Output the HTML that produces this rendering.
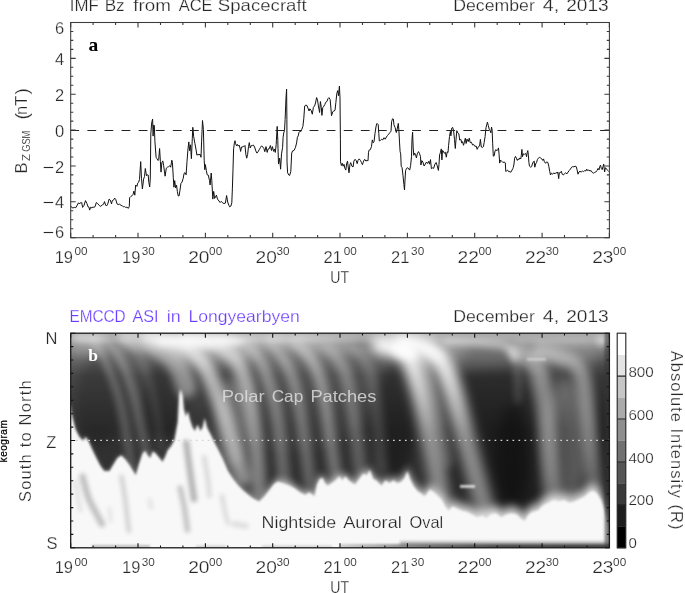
<!DOCTYPE html>
<html lang="en"><head><meta charset="utf-8"><title>IMF Bz and EMCCD ASI keogram</title>
<style>html,body{margin:0;padding:0;background:#fff}svg{display:block}text{stroke:#fff;stroke-width:.25px}.sm{stroke-width:.12px}.ns{stroke:none}</style></head>
<body>
<svg width="685" height="593" viewBox="0 0 685 593" font-family='"Liberation Sans", sans-serif' font-size="16.5" fill="#262626">
<defs>
<filter id="b1" filterUnits="userSpaceOnUse" x="40" y="310" width="600" height="260"><feGaussianBlur stdDeviation="1"/></filter>
<filter id="b15" filterUnits="userSpaceOnUse" x="40" y="310" width="600" height="260"><feGaussianBlur stdDeviation="1.5"/></filter>
<filter id="b2" filterUnits="userSpaceOnUse" x="40" y="310" width="600" height="260"><feGaussianBlur stdDeviation="2.2"/></filter>
<filter id="b3" filterUnits="userSpaceOnUse" x="40" y="310" width="600" height="260"><feGaussianBlur stdDeviation="3.5"/></filter>
<filter id="b4" filterUnits="userSpaceOnUse" x="40" y="310" width="600" height="260"><feGaussianBlur stdDeviation="4.5"/></filter>
<filter id="b5" filterUnits="userSpaceOnUse" x="40" y="310" width="600" height="260"><feGaussianBlur stdDeviation="6"/></filter>
<clipPath id="cp"><rect x="70.7" y="333.2" width="538.7" height="214.6"/></clipPath>
<linearGradient id="gs" gradientUnits="userSpaceOnUse" x1="0" y1="336" x2="0" y2="520"><stop offset="0" stop-color="#fff" stop-opacity="0.8"/><stop offset="0.08" stop-color="#fff" stop-opacity="0.95"/><stop offset="0.3" stop-color="#fff" stop-opacity="0.8"/><stop offset="1" stop-color="#fff" stop-opacity="0.55"/></linearGradient>
<linearGradient id="gs2" gradientUnits="userSpaceOnUse" x1="0" y1="336" x2="0" y2="520"><stop offset="0" stop-color="#fff" stop-opacity="1"/><stop offset="0.2" stop-color="#fff" stop-opacity="0.85"/><stop offset="0.55" stop-color="#fff" stop-opacity="0.5"/><stop offset="1" stop-color="#fff" stop-opacity="0.4"/></linearGradient>
<linearGradient id="gstrip" x1="0" y1="0" x2="1" y2="0"><stop offset="0" stop-color="#ccc"/><stop offset="0.35" stop-color="#666"/><stop offset="0.6" stop-color="#3a3a3a"/><stop offset="1" stop-color="#333"/></linearGradient>
<linearGradient id="gb" x1="0" y1="0" x2="0" y2="1"><stop offset="0" stop-color="#9a9a9a"/><stop offset="0.06" stop-color="#7c7c7c"/><stop offset="0.2" stop-color="#4a4a4a"/><stop offset="0.45" stop-color="#323232"/><stop offset="1" stop-color="#2c2c2c"/></linearGradient>
</defs>
<rect width="685" height="593" fill="#fff"/>
<text x="69.8" y="11" textLength="29" lengthAdjust="spacingAndGlyphs">IMF</text>
<text x="104.7" y="11" textLength="19.9" lengthAdjust="spacingAndGlyphs">Bz</text>
<text x="133.2" y="11" textLength="37.6" lengthAdjust="spacingAndGlyphs">from</text>
<text x="178.7" y="11" textLength="33.9" lengthAdjust="spacingAndGlyphs">ACE</text>
<text x="217.8" y="11" textLength="89" lengthAdjust="spacingAndGlyphs">Spacecraft</text>
<text x="453.2" y="11.2" textLength="81.6" lengthAdjust="spacingAndGlyphs">December</text>
<text x="542.8" y="11.2" textLength="16.4" lengthAdjust="spacingAndGlyphs">4,</text>
<text x="566.2" y="11.2" textLength="42.5" lengthAdjust="spacingAndGlyphs">2013</text>
<path d="M70.7 206 L71.2 206.9 L72.9 208 L74.4 207.4 L75.8 207.7 L77.3 205 L78.5 202.8 L79.3 203.9 L80.2 202.8 L81.1 203.1 L81.7 202.5 L82.6 207.4 L84 205.4 L85.5 200.6 L86.9 203.5 L88.1 206.9 L89 207.2 L89.6 210.1 L90.7 207.2 L91.9 208 L92.8 206.9 L93.9 207.4 L95.1 206.6 L96.3 202.5 L97.7 203.6 L99.2 205.4 L100.7 206.4 L102.1 205 L103.6 204.2 L104.5 201.6 L105.6 205 L106.5 206 L107.7 204.2 L109.1 199.1 L110.3 200.1 L111.5 203.9 L112.3 200.6 L113.5 200.1 L114.7 198.1 L115.8 199.6 L117 203.9 L118.2 204.5 L119.6 204.2 L121.1 205.4 L122.3 205.7 L123.4 206.9 L124.6 206.6 L125.5 207.4 L126.9 207.2 L128.4 208.3 L129.3 206.4 L129.6 197.7 L130.7 196.6 L131.9 195.8 L133.1 194.3 L133.9 191.1 L134.8 195.2 L135.7 185 L136.9 186.4 L137.7 183.1 L138.6 182.3 L139.5 179.4 L140.7 161.6 L141.5 178.7 L142.4 188.9 L143.6 179.1 L144.5 176.5 L145.3 168.5 L146.5 175.8 L147.4 174.7 L148.2 175 L148.8 182.3 L149.7 187 L150.3 178 L150.8 133.9 L151.7 122.9 L152.6 119 L153.1 136.1 L153.7 125.1 L154.3 125.4 L154.9 141.2 L156.1 157.3 L156.9 158.7 L158.1 160.5 L158.7 159.4 L159.6 148.5 L160.4 161.6 L161 172.1 L161.9 162.4 L162.8 160.9 L163.6 165.3 L164.5 171.9 L165.1 176.2 L166.3 168.2 L167.4 167.2 L168.6 166.7 L169.8 165.7 L170.7 167.2 L171.8 160.2 L172.4 162.4 L173.3 177.7 L173.9 187.2 L174.7 180.6 L175.6 187.9 L176.5 185 L177.4 191.6 L178.2 195.9 L179.1 195.9 L180 190.1 L180.9 183.5 L182 182.1 L183.2 178.4 L184.1 173.3 L185 172.6 L186.1 174.8 L187 161.6 L187.9 150 L188.8 141.9 L189.6 150.7 L190.5 144.8 L191.4 158.7 L192.3 138.3 L192.8 127.3 L193.7 136.8 L194.9 143.4 L196.1 150 L196.9 155.1 L198.1 154.3 L199 155.1 L199.9 154 L201 157.3 L201.6 141.2 L202.5 120.5 L203.4 129.5 L204.2 160.2 L204.8 169.7 L205.4 164.6 L206.3 170.4 L207.2 174.8 L208.3 175.1 L209.5 180.6 L210.1 185 L211.2 173 L211.8 180.6 L212.7 196.7 L212.8 199.1 L213.7 191.4 L214.6 198.4 L215.2 197.7 L216.4 195.2 L217.5 199.1 L219 201 L220.1 202.5 L221.3 201.3 L222.5 202.8 L223.9 203.5 L225.4 203.1 L226.6 195.5 L227.7 202 L228.9 205.4 L229.8 206.9 L230.9 206 L231.8 202.8 L232.4 188.2 L233 169.2 L233.6 148.8 L234.5 142.2 L235 140.7 L235.6 143.6 L236.5 145.8 L237.4 144.4 L238.2 146.1 L239.1 145.1 L240 148 L240.6 151.4 L241.5 147 L242.3 147.3 L243.2 146.1 L244.1 146.6 L245 145.5 L245.8 153.9 L246.7 158.2 L247.6 154.6 L248.5 146.6 L249.3 142.6 L250.2 148 L251.1 145.8 L252.3 145.5 L253.4 145.1 L254.6 147 L255.8 150.9 L256.9 153.1 L258.1 151.7 L259.3 149.5 L260.4 147.6 L261.6 145.8 L262.8 147 L263.9 148.5 L264.8 151.7 L266 146.6 L267.2 152.4 L268 149.1 L269.2 148.8 L270.4 145.5 L271.5 150.5 L272.4 146.6 L273.6 151.4 L274.5 149.1 L275.3 152.4 L276.2 144.4 L276.4 140.2 L277.2 126.4 L277.8 140.2 L278 148.8 L278.5 164.1 L279.7 158.2 L280.6 169.2 L281.5 153.9 L282.6 147.3 L283.1 137.3 L283.9 132.2 L284.5 130.7 L285.1 119.8 L286 97.9 L286.6 89.1 L286.9 119.8 L287 161.9 L287.6 172.8 L288.8 175 L289.6 175.5 L290.8 171.4 L291.7 153.1 L292.6 150.9 L294 150.5 L295.5 147.3 L296.6 142.9 L297.4 137.3 L298.2 135.9 L299.1 132.2 L300 131.2 L300.9 131.5 L301.8 129.3 L302.9 126.4 L303.8 118.3 L304.7 105.9 L305.8 105.2 L307 105.5 L308.2 108.8 L309.1 111 L309.9 108.8 L311.1 110.3 L312.3 114.2 L313.4 107.4 L314.6 105.9 L315.5 103 L316.6 97.6 L317.5 100.1 L318.4 105.9 L319.6 112.5 L320.4 101.5 L321.3 107.4 L321.9 115.4 L322.8 107.4 L323.6 106.7 L324.8 104.5 L325.7 102.3 L326.9 101.5 L328 98.6 L328.9 97.6 L330.1 99.4 L330.9 108.1 L331.5 115.7 L332.7 111.8 L333.9 111 L335 110.3 L335.9 102.3 L336.8 93.5 L337.7 90.6 L338.5 95.7 L339.4 86.2 L340 97.9 L340.4 139.2 L340.5 161.8 L341.4 165.5 L342.3 163.3 L343.1 166.2 L344 164.3 L344.9 168.4 L345.8 170.1 L346.6 164 L347.5 161.1 L348.1 166.2 L349 172.8 L349.9 164.7 L350.7 162.6 L351.9 166.2 L353.1 166.9 L353.9 161.1 L355.1 159.3 L356.3 160.8 L357.2 163.7 L358 160.4 L359.2 158.9 L360.4 160.4 L361.5 162.6 L362.4 164.7 L363.6 161.1 L364.7 159.3 L365.9 161.1 L367.1 160.4 L368 160.8 L368.5 152.3 L369.1 150.1 L370.3 149.7 L371.5 146.5 L372.3 139.9 L373.2 142.8 L374.1 141.4 L375 133.4 L376.1 126.1 L377 123.4 L378.2 124.6 L378.8 133.4 L379.3 140.9 L380.5 140.4 L381.7 139.2 L382.8 139.9 L384 137.7 L385.2 139.2 L386.4 137 L387.5 135.5 L388.7 134.1 L389.9 132.6 L391 131.2 L391.6 121.7 L392.5 118.8 L393.4 119.1 L393.9 124.6 L395.1 127.5 L396.3 132.6 L397.2 129 L398.3 123.4 L398.9 130.4 L399.5 142.1 L400.1 151.6 L400.7 153.8 L401.2 166.2 L402.1 167.7 L403 175.7 L403.9 184.5 L404.5 190 L405 180.1 L405.6 170.6 L406.5 168.4 L407.7 167.7 L408.8 169.1 L409.7 170.1 L410.6 165.5 L411.5 156.7 L412 139.2 L412.6 132.2 L413.2 148 L413.8 155.3 L414.7 153.1 L415.5 154.5 L416.4 157.9 L417.3 153.8 L418.5 151.6 L419.6 153.8 L420.5 156.7 L420.9 165 L421.8 160.6 L422.9 162 L424.1 166 L425.3 164.2 L426.4 162 L427.6 163.5 L428.8 161.3 L429.6 164.2 L430.5 159.6 L431.4 168.6 L432.6 167.9 L433.7 168.3 L434.9 164.2 L436.1 162.5 L437.2 165.7 L438.4 170.4 L439 164.2 L439.6 154.7 L440.4 152.6 L441.3 148.9 L441.9 159.9 L442.5 150.4 L443.4 151.1 L444.2 153.3 L445.4 152.3 L446.3 157.2 L447.2 151.8 L448 152.6 L448.6 145.3 L449.5 136.5 L450.4 131.4 L450.9 135.8 L451.8 128 L452.7 127.4 L453.6 130.7 L454.5 139.4 L455.3 148.5 L455.9 140.9 L456.8 130.7 L457.7 132.8 L458.8 133.6 L459.7 140.1 L460.9 139.4 L461.8 143.1 L462.6 141.6 L463.5 145.3 L464.4 142.3 L465.3 138.2 L466.1 143.5 L467 139.1 L468.2 141.6 L469.3 138.2 L470.2 142.6 L471.4 142.3 L472.6 145 L473.7 144.5 L474.9 146.4 L476.1 146 L477.2 149.3 L478.4 146.7 L479.6 146 L480.4 139.4 L481.3 147 L482.5 147.4 L483.4 146.7 L484.2 142.3 L485.1 136.5 L486 127.7 L486.9 124.1 L487.4 122.2 L488.3 125.5 L489.2 129.2 L490.1 130.7 L490.9 132.8 L491.5 127 L492.1 129.9 L492.7 143.8 L493.3 156.2 L494.2 155.8 L495 151.1 L495.9 149.6 L496.8 150.8 L497.7 149.9 L498.5 147.9 L499.1 154.7 L499.7 163.1 L500.6 160.1 L501.8 161.3 L502.9 162.5 L504.1 162 L505.3 162.8 L505.8 171.5 L506.7 170.8 L507.6 170.1 L508.8 171.8 L509.9 171.5 L510.8 172.3 L512 170.1 L512.8 168.6 L513.2 167.7 L514 164 L514.6 158.2 L515.5 156.4 L516.4 158.2 L517.3 160.4 L518.1 158.9 L519 159.6 L519.9 157.9 L520.8 158.9 L521.3 155.3 L521.9 149.4 L522.5 156.7 L523.4 153.8 L524.3 154.5 L525.1 153.5 L526 154.1 L526.6 156.7 L527.2 152.3 L527.8 150.6 L528.4 155.3 L528.9 162.6 L529.5 166.2 L530.7 167.2 L531.6 166.6 L532.4 164 L533.3 161.8 L534.2 161.1 L534.8 167.2 L535.6 164 L536.5 162.6 L537.4 159.6 L538.3 158.2 L539.4 157.4 L540.6 157.9 L541.8 158.9 L542.7 160.4 L543.5 158.9 L544.4 161.8 L545.6 163.3 L546.7 161.8 L547.9 162.6 L548.8 166.2 L549.7 171.3 L550.5 175 L551.4 173.1 L552.6 174.2 L553.8 172.8 L554.9 173.9 L556.1 172.5 L557.3 173.1 L557.8 172 L558.7 178.6 L559.3 172.8 L560.5 172.5 L561.3 171.3 L562.2 174.2 L563.4 175 L564.6 173.5 L565.7 172.8 L566.9 173.9 L568.1 172 L569.2 170.6 L570.4 169.1 L571.6 167.2 L572.7 166.6 L573.9 166.9 L575.1 166.2 L576.2 166.6 L577.1 169.9 L578 174.2 L578.9 172 L580 171.3 L581.2 172 L582.4 171 L583.5 171.6 L584.7 170.6 L585.9 171 L586.7 169.1 L587.6 170.6 L588.8 170.1 L590 171 L591.1 170.6 L592.3 172.5 L593.5 173.1 L594.6 172.5 L595.8 172 L597 170.6 L598.1 168.4 L599 169.9 L599.9 166.2 L600.5 165.2 L601.3 168.4 L602.2 169.6 L603.1 166.2 L603.7 164 L604.6 172 L605.4 167.7 L606.6 169.1 L607.8 170.6 L608.6 171.3" fill="none" stroke="#111" stroke-width="1" stroke-linejoin="round"/>
<line x1="70.3" y1="130.4" x2="609.4" y2="130.4" stroke="#222" stroke-width="1.05" stroke-dasharray="8.8 8.29"/>
<path d="M70.7 237.7v-5.0M70.7 22.5v5.0M93.1 237.7v-2.6M93.1 22.5v2.6M115.6 237.7v-2.6M115.6 22.5v2.6M138 237.7v-5.0M138 22.5v5.0M160.5 237.7v-2.6M160.5 22.5v2.6M182.9 237.7v-2.6M182.9 22.5v2.6M205.4 237.7v-5.0M205.4 22.5v5.0M227.8 237.7v-2.6M227.8 22.5v2.6M250.3 237.7v-2.6M250.3 22.5v2.6M272.7 237.7v-5.0M272.7 22.5v5.0M295.2 237.7v-2.6M295.2 22.5v2.6M317.6 237.7v-2.6M317.6 22.5v2.6M340 237.7v-5.0M340 22.5v5.0M362.5 237.7v-2.6M362.5 22.5v2.6M384.9 237.7v-2.6M384.9 22.5v2.6M407.4 237.7v-5.0M407.4 22.5v5.0M429.8 237.7v-2.6M429.8 22.5v2.6M452.3 237.7v-2.6M452.3 22.5v2.6M474.7 237.7v-5.0M474.7 22.5v5.0M497.2 237.7v-2.6M497.2 22.5v2.6M519.6 237.7v-2.6M519.6 22.5v2.6M542.1 237.7v-5.0M542.1 22.5v5.0M564.5 237.7v-2.6M564.5 22.5v2.6M587 237.7v-2.6M587 22.5v2.6M609.4 237.7v-5.0M609.4 22.5v5.0" stroke="#3a3a3a" stroke-width="1.1" fill="none"/>
<path d="M70.7 22.5h5.0M609.4 22.5h-5.0M70.7 31.5h2.6M609.4 31.5h-2.6M70.7 40.4h2.6M609.4 40.4h-2.6M70.7 49.4h2.6M609.4 49.4h-2.6M70.7 58.4h5.0M609.4 58.4h-5.0M70.7 67.3h2.6M609.4 67.3h-2.6M70.7 76.3h2.6M609.4 76.3h-2.6M70.7 85.3h2.6M609.4 85.3h-2.6M70.7 94.2h5.0M609.4 94.2h-5.0M70.7 103.2h2.6M609.4 103.2h-2.6M70.7 112.2h2.6M609.4 112.2h-2.6M70.7 121.1h2.6M609.4 121.1h-2.6M70.7 130.1h5.0M609.4 130.1h-5.0M70.7 139.1h2.6M609.4 139.1h-2.6M70.7 148h2.6M609.4 148h-2.6M70.7 157h2.6M609.4 157h-2.6M70.7 166h5.0M609.4 166h-5.0M70.7 174.9h2.6M609.4 174.9h-2.6M70.7 183.9h2.6M609.4 183.9h-2.6M70.7 192.9h2.6M609.4 192.9h-2.6M70.7 201.8h5.0M609.4 201.8h-5.0M70.7 210.8h2.6M609.4 210.8h-2.6M70.7 219.8h2.6M609.4 219.8h-2.6M70.7 228.7h2.6M609.4 228.7h-2.6M70.7 237.7h5.0M609.4 237.7h-5.0" stroke="#3a3a3a" stroke-width="1.1" fill="none"/>
<rect x="70.7" y="22.5" width="538.7" height="215.2" fill="none" stroke="#3a3a3a" stroke-width="1.05"/>
<text x="64.2" y="34.2" text-anchor="end">6</text>
<text x="64.2" y="65" text-anchor="end">4</text>
<text x="64.2" y="100.8" text-anchor="end">2</text>
<text x="64.2" y="136.7" text-anchor="end">0</text>
<text x="42.6" y="172.6" textLength="11.6" lengthAdjust="spacingAndGlyphs">−</text>
<text x="64.2" y="172.6" text-anchor="end">2</text>
<text x="42.6" y="208.4" textLength="11.6" lengthAdjust="spacingAndGlyphs">−</text>
<text x="64.2" y="208.4" text-anchor="end">4</text>
<text x="42.6" y="238.2" textLength="11.6" lengthAdjust="spacingAndGlyphs">−</text>
<text x="64.2" y="238.2" text-anchor="end">6</text>
<text x="54.7" y="262.5">19</text>
<text x="74.4" y="255.1" font-size="10.2" class="sm" textLength="13.1" lengthAdjust="spacingAndGlyphs">00</text>
<text x="122" y="262.5">19</text>
<text x="141.7" y="255.1" font-size="10.2" class="sm" textLength="13.1" lengthAdjust="spacingAndGlyphs">30</text>
<text x="188.2" y="262.5" textLength="21.3" lengthAdjust="spacingAndGlyphs">20</text>
<text x="209.1" y="255.1" font-size="10.2" class="sm" textLength="13.1" lengthAdjust="spacingAndGlyphs">00</text>
<text x="255.5" y="262.5" textLength="21.3" lengthAdjust="spacingAndGlyphs">20</text>
<text x="276.4" y="255.1" font-size="10.2" class="sm" textLength="13.1" lengthAdjust="spacingAndGlyphs">30</text>
<text x="323.6" y="262.5">21</text>
<text x="343.7" y="255.1" font-size="10.2" class="sm" textLength="13.1" lengthAdjust="spacingAndGlyphs">00</text>
<text x="391" y="262.5">21</text>
<text x="411.1" y="255.1" font-size="10.2" class="sm" textLength="13.1" lengthAdjust="spacingAndGlyphs">30</text>
<text x="457.5" y="262.5" textLength="21.3" lengthAdjust="spacingAndGlyphs">22</text>
<text x="478.4" y="255.1" font-size="10.2" class="sm" textLength="13.1" lengthAdjust="spacingAndGlyphs">00</text>
<text x="524.9" y="262.5" textLength="21.3" lengthAdjust="spacingAndGlyphs">22</text>
<text x="545.8" y="255.1" font-size="10.2" class="sm" textLength="13.1" lengthAdjust="spacingAndGlyphs">30</text>
<text x="592.2" y="262.5" textLength="21.3" lengthAdjust="spacingAndGlyphs">23</text>
<text x="613.1" y="255.1" font-size="10.2" class="sm" textLength="13.1" lengthAdjust="spacingAndGlyphs">00</text>
<text x="54.7" y="573">19</text>
<text x="74.4" y="565.6" font-size="10.2" class="sm" textLength="13.1" lengthAdjust="spacingAndGlyphs">00</text>
<text x="122" y="573">19</text>
<text x="141.7" y="565.6" font-size="10.2" class="sm" textLength="13.1" lengthAdjust="spacingAndGlyphs">30</text>
<text x="188.2" y="573" textLength="21.3" lengthAdjust="spacingAndGlyphs">20</text>
<text x="209.1" y="565.6" font-size="10.2" class="sm" textLength="13.1" lengthAdjust="spacingAndGlyphs">00</text>
<text x="255.5" y="573" textLength="21.3" lengthAdjust="spacingAndGlyphs">20</text>
<text x="276.4" y="565.6" font-size="10.2" class="sm" textLength="13.1" lengthAdjust="spacingAndGlyphs">30</text>
<text x="323.6" y="573">21</text>
<text x="343.7" y="565.6" font-size="10.2" class="sm" textLength="13.1" lengthAdjust="spacingAndGlyphs">00</text>
<text x="391" y="573">21</text>
<text x="411.1" y="565.6" font-size="10.2" class="sm" textLength="13.1" lengthAdjust="spacingAndGlyphs">30</text>
<text x="457.5" y="573" textLength="21.3" lengthAdjust="spacingAndGlyphs">22</text>
<text x="478.4" y="565.6" font-size="10.2" class="sm" textLength="13.1" lengthAdjust="spacingAndGlyphs">00</text>
<text x="524.9" y="573" textLength="21.3" lengthAdjust="spacingAndGlyphs">22</text>
<text x="545.8" y="565.6" font-size="10.2" class="sm" textLength="13.1" lengthAdjust="spacingAndGlyphs">30</text>
<text x="592.2" y="573" textLength="21.3" lengthAdjust="spacingAndGlyphs">23</text>
<text x="613.1" y="565.6" font-size="10.2" class="sm" textLength="13.1" lengthAdjust="spacingAndGlyphs">00</text>
<text x="330.3" y="282.6" textLength="18.8" lengthAdjust="spacingAndGlyphs">UT</text>
<text x="330.3" y="592.6" textLength="18.8" lengthAdjust="spacingAndGlyphs">UT</text>
<g transform="translate(26.6 173.6) rotate(-90)"><text x="0" y="0">B</text><text x="12.6" y="3.2" font-size="11.5" class="sm">Z</text><text x="21.9" y="3.2" font-size="11.5" class="sm" textLength="21" lengthAdjust="spacingAndGlyphs">GSM</text><text x="54" y="1.6" font-size="19">(</text><text x="58.6" y="0" textLength="19.4" lengthAdjust="spacing">nT</text><text x="79" y="1.6" font-size="19">)</text></g>
<text x="88.6" y="51" font-family='"Liberation Serif", serif' font-weight="bold" font-size="19.5" fill="#000" class="ns">a</text>
<text x="69.4" y="321.8" textLength="56.3" lengthAdjust="spacingAndGlyphs" fill="#6a3cff">EMCCD</text>
<text x="132.5" y="321.8" textLength="26.1" lengthAdjust="spacingAndGlyphs" fill="#6a3cff">ASI</text>
<text x="166.8" y="321.8" textLength="13.9" lengthAdjust="spacingAndGlyphs" fill="#6a3cff">in</text>
<text x="188.5" y="321.8" textLength="111.3" lengthAdjust="spacingAndGlyphs" fill="#6a3cff">Longyearbyen</text>
<text x="453.2" y="321.8" textLength="81.6" lengthAdjust="spacingAndGlyphs">December</text>
<text x="542.8" y="321.8" textLength="16.4" lengthAdjust="spacingAndGlyphs">4,</text>
<text x="566.2" y="321.8" textLength="42.5" lengthAdjust="spacingAndGlyphs">2013</text>
<g clip-path="url(#cp)">
<rect x="70.7" y="333.2" width="538.7" height="214.6" fill="url(#gb)"/>
<ellipse cx="512" cy="455" rx="16" ry="50" fill="#000" opacity="0.3" filter="url(#b5)"/>
<ellipse cx="395" cy="420" rx="22" ry="55" fill="#000" opacity="0.35" filter="url(#b5)"/>
<ellipse cx="165" cy="400" rx="22" ry="40" fill="#000" opacity="0.25" filter="url(#b5)"/>
<ellipse cx="100" cy="400" rx="25" ry="45" fill="#000" opacity="0.2" filter="url(#b5)"/>
<ellipse cx="602" cy="430" rx="6" ry="80" fill="#000" opacity="0.4" filter="url(#b5)"/>
<ellipse cx="560" cy="455" rx="8" ry="40" fill="#000" opacity="0.3" filter="url(#b5)"/>
<ellipse cx="455" cy="480" rx="10" ry="30" fill="#000" opacity="0.2" filter="url(#b5)"/>
<path d="M452 372L518 368L532 400L538 505L492 512L470 450Z" fill="#000" opacity="0.4" filter="url(#b5)"/>
<rect x="70.7" y="333.2" width="538.7" height="9" fill="#fff" opacity="0.22" filter="url(#b2)"/>
<ellipse cx="200" cy="341" rx="46" ry="7" fill="#fff" opacity="0.8" filter="url(#b3)"/>
<ellipse cx="300" cy="337" rx="60" ry="3" fill="#fff" opacity="0.2" filter="url(#b3)"/>
<ellipse cx="85" cy="337" rx="20" ry="4" fill="#fff" opacity="0.2" filter="url(#b3)"/>
<ellipse cx="604" cy="341" rx="8" ry="6" fill="#fff" opacity="0.5" filter="url(#b3)"/>
<ellipse cx="560" cy="343" rx="45" ry="3.5" fill="#fff" opacity="0.3" filter="url(#b3)"/>
<ellipse cx="232" cy="425" rx="16" ry="45" fill="#fff" opacity="0.22" filter="url(#b5)"/>
<ellipse cx="566" cy="440" rx="24" ry="60" fill="#fff" opacity="0.2" filter="url(#b5)"/>
<ellipse cx="295" cy="400" rx="75" ry="50" fill="#fff" opacity="0.04" filter="url(#b5)"/>
<ellipse cx="85" cy="345" rx="22" ry="10" fill="#fff" opacity="0.25" filter="url(#b5)"/>
<ellipse cx="215" cy="352" rx="45" ry="12" fill="#fff" opacity="0.25" filter="url(#b5)"/>
<ellipse cx="330" cy="348" rx="40" ry="8" fill="#fff" opacity="0.1" filter="url(#b5)"/>
<ellipse cx="430" cy="350" rx="40" ry="10" fill="#fff" opacity="0.2" filter="url(#b5)"/>
<ellipse cx="570" cy="352" rx="40" ry="8" fill="#fff" opacity="0.15" filter="url(#b5)"/>
<path d="M80 338C82.3 338.6 89.5 337.9 93.7 341.8C98 345.7 101.5 353 105.5 361.6C109.5 370.2 114.1 382 117.4 393.2C120.7 404.4 123.3 418.8 125.3 428.7C127.3 438.6 128.1 445.5 129.2 452.4C130.3 459.3 131.5 467.1 132 470" fill="none" stroke="url(#gs)" stroke-width="8" opacity="0.3" stroke-linecap="round" filter="url(#b3)"/>
<path d="M95 338C97.1 338.6 103.1 337.9 107.5 341.8C111.9 345.7 117 353 121.3 361.6C125.6 370.2 129.9 382 133.2 393.2C136.5 404.4 138.7 418.2 141 428.7C143.3 439.2 145.5 449.4 147 456.3C148.5 463.2 149.5 467.7 150 470" fill="none" stroke="url(#gs)" stroke-width="8" opacity="0.3" stroke-linecap="round" filter="url(#b3)"/>
<path d="M118 338C120 338.7 126 338.3 130 342C134 345.7 138.3 352 142 360C145.7 368 149.3 380 152 390C154.7 400 156.3 410 158 420C159.7 430 161.3 445 162 450" fill="none" stroke="url(#gs)" stroke-width="6" opacity="0.14" stroke-linecap="round" filter="url(#b3)"/>
<path d="M128 338C131.7 338.8 143.3 340.3 150 343C156.7 345.7 163 349.5 168 354C173 358.5 177 364.3 180 370C183 375.7 185 385 186 388" fill="none" stroke="url(#gs)" stroke-width="20" opacity="0.5" stroke-linecap="round" filter="url(#b4)"/>
<path d="M150 338C154.3 338.8 168.3 340.2 176 343C183.7 345.8 190.7 350.2 196 355C201.3 359.8 204.7 365.8 208 372C211.3 378.2 213.5 385.3 216 392C218.5 398.7 220.8 405.3 223 412C225.2 418.7 226.8 424.8 229 432C231.2 439.2 233.7 447.3 236 455C238.3 462.7 241.8 474.2 243 478" fill="none" stroke="url(#gs)" stroke-width="16" opacity="0.72" stroke-linecap="round" filter="url(#b4)"/>
<path d="M188 339C192.5 340 207.3 342 215 345C222.7 348 229.2 351.5 234 357C238.8 362.5 241.3 370.5 244 378C246.7 385.5 248.3 393.3 250 402C251.7 410.7 252.8 420.3 254 430C255.2 439.7 256.2 449.7 257 460C257.8 470.3 258.7 486.7 259 492" fill="none" stroke="url(#gs)" stroke-width="15" opacity="0.62" stroke-linecap="round" filter="url(#b4)"/>
<path d="M222 339C225.7 339.8 237.8 340.8 244 344C250.2 347.2 255 352 259 358C263 364 265.3 372.2 268 380C270.7 387.8 273.2 396.7 275 405C276.8 413.3 277.8 420.8 279 430C280.2 439.2 281 450.3 282 460C283 469.7 284.5 483.3 285 488" fill="none" stroke="url(#gs)" stroke-width="12" opacity="0.44" stroke-linecap="round" filter="url(#b4)"/>
<path d="M248 339C251.3 339.8 262.2 340.8 268 344C273.8 347.2 278.8 352 283 358C287.2 364 290.3 372.2 293 380C295.7 387.8 297.3 396.7 299 405C300.7 413.3 301.7 420.8 303 430C304.3 439.2 305.8 451 307 460C308.2 469 309.5 480 310 484" fill="none" stroke="url(#gs)" stroke-width="11" opacity="0.44" stroke-linecap="round" filter="url(#b4)"/>
<path d="M272 339C275.7 339.8 287.8 341.2 294 344C300.2 346.8 304.8 350.7 309 356C313.2 361.3 316.3 368.3 319 376C321.7 383.7 323.3 393 325 402C326.7 411 327.7 420.7 329 430C330.3 439.3 331.8 450 333 458C334.2 466 335.5 474.7 336 478" fill="none" stroke="url(#gs)" stroke-width="12" opacity="0.5" stroke-linecap="round" filter="url(#b4)"/>
<path d="M298 339C301.7 339.8 313.8 341.3 320 344C326.2 346.7 330.8 350.3 335 355C339.2 359.7 342.3 364.5 345 372C347.7 379.5 349.2 389.5 351 400C352.8 410.5 354.5 423.3 356 435C357.5 446.7 359 461.8 360 470C361 478.2 361.7 481.7 362 484" fill="none" stroke="url(#gs)" stroke-width="12" opacity="0.36" stroke-linecap="round" filter="url(#b4)"/>
<path d="M330 342C333.7 343 346 344.7 352 348C358 351.3 362.3 355 366 362C369.7 369 371.8 378.7 374 390C376.2 401.3 377.7 416.7 379 430C380.3 443.3 381.5 463.3 382 470" fill="none" stroke="url(#gs)" stroke-width="10" opacity="0.22" stroke-linecap="round" filter="url(#b4)"/>
<path d="M380 345C382.7 345.5 391.7 346.8 396 348C400.3 349.2 403.2 349.7 406 352.5C408.8 355.3 410.2 358.9 412.5 365C414.8 371.1 417.4 381.2 419.5 389C421.6 396.8 423.2 404 425 412C426.8 420 428.3 428.7 430 437C431.7 445.3 433.3 453.2 435 462C436.7 470.8 438.7 483.3 440 490C441.3 496.7 442.5 500 443 502" fill="none" stroke="url(#gs2)" stroke-width="18" opacity="1.0" stroke-linecap="round" filter="url(#b5)"/>
<path d="M412 351C414 353.3 420.8 358.7 424 365C427.2 371.3 428.8 381.2 431 389C433.2 396.8 435.2 404 437 412C438.8 420 440.2 428.7 442 437C443.8 445.3 447 457.8 448 462" fill="none" stroke="url(#gs2)" stroke-width="12" opacity="0.35" stroke-linecap="round" filter="url(#b4)"/>
<path d="M402 343C405 343.5 415 344.6 420 346C425 347.4 428.1 348.3 432 351.5C435.9 354.7 440.2 359.6 443.5 365.4C446.8 371.1 448.9 378.2 451.5 386C454.1 393.8 456.7 403.7 459 412C461.3 420.3 463.3 427.8 465.5 436C467.7 444.2 469.6 452 472 461C474.4 470 477.5 481 480 490C482.5 499 485.8 510.8 487 515" fill="none" stroke="url(#gs2)" stroke-width="19" opacity="1.0" stroke-linecap="round" filter="url(#b5)"/>
<path d="M446 342C450.6 342.1 464.8 342.3 473.8 342.8C482.8 343.3 493.9 343.8 500 344.8C506.1 345.8 508.1 347 510.5 349C512.9 351 513.8 355.7 514.5 357" fill="none" stroke="url(#gs2)" stroke-width="7" opacity="0.55" stroke-linecap="round" filter="url(#b3)"/>
<path d="M515 356C515.3 359.2 516.5 367.7 517 375C517.5 382.3 517.8 395.8 518 400" fill="none" stroke="url(#gs2)" stroke-width="7" opacity="0.2" stroke-linecap="round" filter="url(#b3)"/>
<path d="M516 351C518.9 352.8 529.2 356.6 533.4 361.6C537.6 366.7 539 370.1 541.3 381.3C543.6 392.5 545.6 410.9 547.3 428.7C548.9 446.5 550.2 475.4 551.2 487.9C552.2 500.4 552.9 501.1 553.2 503.7" fill="none" stroke="url(#gs)" stroke-width="17" opacity="0.45" stroke-linecap="round" filter="url(#b4)"/>
<path d="M540 352C543.5 352.9 555 355.4 561.1 357.6C567.2 359.9 573 360.2 576.9 365.5C580.8 370.8 582.5 376.7 584.8 389.2C587.1 401.7 589.1 424.1 590.7 440.5C592.4 456.9 594 480 594.7 487.9" fill="none" stroke="url(#gs)" stroke-width="15" opacity="0.45" stroke-linecap="round" filter="url(#b4)"/>
<ellipse cx="404" cy="352" rx="13" ry="6" fill="#fff" opacity="0.65" filter="url(#b3)" transform="rotate(20 404 352)"/>
<ellipse cx="433" cy="353" rx="13" ry="5" fill="#fff" opacity="0.4" filter="url(#b3)" transform="rotate(30 433 353)"/>
<linearGradient id="gm" gradientUnits="userSpaceOnUse" x1="200" y1="0" x2="300" y2="0"><stop offset="0" stop-color="#000"/><stop offset="1" stop-color="#fff"/></linearGradient>
<mask id="mh" maskUnits="userSpaceOnUse" x="60" y="320" width="560" height="240"><rect x="60" y="320" width="560" height="240" fill="url(#gm)"/></mask>
<g mask="url(#mh)"><path d="M60 405.5 L70 405.5 L71.3 413.4 L75.3 429.2 L79.2 437.1 L83.2 441.1 L85.8 437.1 L88.9 442.4 L92.4 450.3 L96.3 458.2 L100.3 466.1 L104.2 471.3 L109.5 471.3 L113.4 464.7 L117.4 458.2 L121.3 455.5 L125.3 459.5 L129.2 464.7 L133.2 471.3 L135.8 475.3 L138.9 464.7 L142.4 454.2 L145 450.8 L147.6 455.5 L150.3 458.2 L152.9 451.6 L155.5 453.4 L159.5 458.2 L162.6 462.1 L165.3 456.8 L167.9 450.3 L171.3 446.3 L174.7 439.7 L177.9 422.1 L179.2 395.8 L180.5 389.2 L182.6 395.8 L183.7 408.9 L185.8 416.8 L187.9 411.6 L189.7 419.5 L192.4 427.4 L195 431.3 L197.6 424.7 L200.3 431.3 L202.9 427.4 L204.7 418.2 L206.8 427.4 L210.8 435.3 L214.7 443.2 L218.7 451.1 L222.6 458.9 L227.9 471.3 L233.2 479.2 L238.4 485.8 L243.7 491.1 L250 496.3 L253.9 498.9 L259.2 501.6 L264.5 496.3 L269.7 489.7 L273.7 484.5 L277.6 481.8 L282.9 483.2 L289.5 485.8 L294.7 488.4 L300 492.4 L305.3 495 L309.2 492.4 L314.5 496.3 L317.1 484.5 L319.7 479.2 L322.4 477.9 L325 483.2 L327.6 485.8 L331.6 483.2 L335.5 480.5 L339.5 476.6 L342.1 480.5 L345.3 476.6 L348.7 480.5 L352.6 483.2 L355.3 484.5 L359.2 479.2 L363.2 473.9 L367.1 475.3 L369.7 470 L373.2 479.2 L376.3 480.5 L378.9 483.2 L381.6 485.8 L385.5 480.5 L389.5 483.2 L393.4 480.5 L397.4 483.2 L401.3 481.8 L404.7 477.9 L407.4 471.3 L410 479.2 L413.2 485.8 L417.1 491.1 L421.1 493.7 L425 496.3 L430 489.7 L433.9 492.4 L437.9 496.3 L441.8 500.3 L444.5 505.5 L448.4 510.8 L452.4 506.8 L456.3 508.2 L461.6 510.8 L466.8 512.1 L472.1 514.7 L477.4 517.4 L482.6 516.1 L486.6 518.7 L490.5 514.7 L495.8 513.4 L501.1 517.4 L506.3 514.7 L511.6 513.4 L516.8 514.7 L520.8 518.7 L524.7 521.3 L528.7 514.7 L532.6 512.1 L537.9 510.8 L543.2 505.5 L548.4 502.9 L553.7 500.3 L558.9 501.6 L564.2 500.3 L569.5 502.9 L574.7 501.6 L580 498.9 L585.3 496.3 L589.2 492.4 L593.2 491.1 L597.1 493.7 L601.1 500.3 L603.7 508.2 L605.8 516.1 L607.6 526.6 L608.9 542.4 L612 560 L60 560Z" fill="#fff" opacity="0.5" filter="url(#b3)" transform="translate(0 -4.5)"/></g>
<linearGradient id="gm2" gradientUnits="userSpaceOnUse" x1="390" y1="0" x2="470" y2="0"><stop offset="0" stop-color="#000"/><stop offset="1" stop-color="#fff"/></linearGradient>
<mask id="mh2" maskUnits="userSpaceOnUse" x="60" y="320" width="560" height="240"><rect x="60" y="320" width="560" height="240" fill="url(#gm2)"/></mask>
<g mask="url(#mh2)"><path d="M60 405.5 L70 405.5 L71.3 413.4 L75.3 429.2 L79.2 437.1 L83.2 441.1 L85.8 437.1 L88.9 442.4 L92.4 450.3 L96.3 458.2 L100.3 466.1 L104.2 471.3 L109.5 471.3 L113.4 464.7 L117.4 458.2 L121.3 455.5 L125.3 459.5 L129.2 464.7 L133.2 471.3 L135.8 475.3 L138.9 464.7 L142.4 454.2 L145 450.8 L147.6 455.5 L150.3 458.2 L152.9 451.6 L155.5 453.4 L159.5 458.2 L162.6 462.1 L165.3 456.8 L167.9 450.3 L171.3 446.3 L174.7 439.7 L177.9 422.1 L179.2 395.8 L180.5 389.2 L182.6 395.8 L183.7 408.9 L185.8 416.8 L187.9 411.6 L189.7 419.5 L192.4 427.4 L195 431.3 L197.6 424.7 L200.3 431.3 L202.9 427.4 L204.7 418.2 L206.8 427.4 L210.8 435.3 L214.7 443.2 L218.7 451.1 L222.6 458.9 L227.9 471.3 L233.2 479.2 L238.4 485.8 L243.7 491.1 L250 496.3 L253.9 498.9 L259.2 501.6 L264.5 496.3 L269.7 489.7 L273.7 484.5 L277.6 481.8 L282.9 483.2 L289.5 485.8 L294.7 488.4 L300 492.4 L305.3 495 L309.2 492.4 L314.5 496.3 L317.1 484.5 L319.7 479.2 L322.4 477.9 L325 483.2 L327.6 485.8 L331.6 483.2 L335.5 480.5 L339.5 476.6 L342.1 480.5 L345.3 476.6 L348.7 480.5 L352.6 483.2 L355.3 484.5 L359.2 479.2 L363.2 473.9 L367.1 475.3 L369.7 470 L373.2 479.2 L376.3 480.5 L378.9 483.2 L381.6 485.8 L385.5 480.5 L389.5 483.2 L393.4 480.5 L397.4 483.2 L401.3 481.8 L404.7 477.9 L407.4 471.3 L410 479.2 L413.2 485.8 L417.1 491.1 L421.1 493.7 L425 496.3 L430 489.7 L433.9 492.4 L437.9 496.3 L441.8 500.3 L444.5 505.5 L448.4 510.8 L452.4 506.8 L456.3 508.2 L461.6 510.8 L466.8 512.1 L472.1 514.7 L477.4 517.4 L482.6 516.1 L486.6 518.7 L490.5 514.7 L495.8 513.4 L501.1 517.4 L506.3 514.7 L511.6 513.4 L516.8 514.7 L520.8 518.7 L524.7 521.3 L528.7 514.7 L532.6 512.1 L537.9 510.8 L543.2 505.5 L548.4 502.9 L553.7 500.3 L558.9 501.6 L564.2 500.3 L569.5 502.9 L574.7 501.6 L580 498.9 L585.3 496.3 L589.2 492.4 L593.2 491.1 L597.1 493.7 L601.1 500.3 L603.7 508.2 L605.8 516.1 L607.6 526.6 L608.9 542.4 L612 560 L60 560Z" fill="#fff" opacity="0.45" filter="url(#b4)" transform="translate(0 -9)"/></g>
<path d="M60 405.5 L70 405.5 L71.3 413.4 L75.3 429.2 L79.2 437.1 L83.2 441.1 L85.8 437.1 L88.9 442.4 L92.4 450.3 L96.3 458.2 L100.3 466.1 L104.2 471.3 L109.5 471.3 L113.4 464.7 L117.4 458.2 L121.3 455.5 L125.3 459.5 L129.2 464.7 L133.2 471.3 L135.8 475.3 L138.9 464.7 L142.4 454.2 L145 450.8 L147.6 455.5 L150.3 458.2 L152.9 451.6 L155.5 453.4 L159.5 458.2 L162.6 462.1 L165.3 456.8 L167.9 450.3 L171.3 446.3 L174.7 439.7 L177.9 422.1 L179.2 395.8 L180.5 389.2 L182.6 395.8 L183.7 408.9 L185.8 416.8 L187.9 411.6 L189.7 419.5 L192.4 427.4 L195 431.3 L197.6 424.7 L200.3 431.3 L202.9 427.4 L204.7 418.2 L206.8 427.4 L210.8 435.3 L214.7 443.2 L218.7 451.1 L222.6 458.9 L227.9 471.3 L233.2 479.2 L238.4 485.8 L243.7 491.1 L250 496.3 L253.9 498.9 L259.2 501.6 L264.5 496.3 L269.7 489.7 L273.7 484.5 L277.6 481.8 L282.9 483.2 L289.5 485.8 L294.7 488.4 L300 492.4 L305.3 495 L309.2 492.4 L314.5 496.3 L317.1 484.5 L319.7 479.2 L322.4 477.9 L325 483.2 L327.6 485.8 L331.6 483.2 L335.5 480.5 L339.5 476.6 L342.1 480.5 L345.3 476.6 L348.7 480.5 L352.6 483.2 L355.3 484.5 L359.2 479.2 L363.2 473.9 L367.1 475.3 L369.7 470 L373.2 479.2 L376.3 480.5 L378.9 483.2 L381.6 485.8 L385.5 480.5 L389.5 483.2 L393.4 480.5 L397.4 483.2 L401.3 481.8 L404.7 477.9 L407.4 471.3 L410 479.2 L413.2 485.8 L417.1 491.1 L421.1 493.7 L425 496.3 L430 489.7 L433.9 492.4 L437.9 496.3 L441.8 500.3 L444.5 505.5 L448.4 510.8 L452.4 506.8 L456.3 508.2 L461.6 510.8 L466.8 512.1 L472.1 514.7 L477.4 517.4 L482.6 516.1 L486.6 518.7 L490.5 514.7 L495.8 513.4 L501.1 517.4 L506.3 514.7 L511.6 513.4 L516.8 514.7 L520.8 518.7 L524.7 521.3 L528.7 514.7 L532.6 512.1 L537.9 510.8 L543.2 505.5 L548.4 502.9 L553.7 500.3 L558.9 501.6 L564.2 500.3 L569.5 502.9 L574.7 501.6 L580 498.9 L585.3 496.3 L589.2 492.4 L593.2 491.1 L597.1 493.7 L601.1 500.3 L603.7 508.2 L605.8 516.1 L607.6 526.6 L608.9 542.4 L612 560 L60 560Z" fill="#fff" opacity="0.35" filter="url(#b2)" transform="translate(0 -1)"/>
<path d="M60 405.5 L70 405.5 L71.3 413.4 L75.3 429.2 L79.2 437.1 L83.2 441.1 L85.8 437.1 L88.9 442.4 L92.4 450.3 L96.3 458.2 L100.3 466.1 L104.2 471.3 L109.5 471.3 L113.4 464.7 L117.4 458.2 L121.3 455.5 L125.3 459.5 L129.2 464.7 L133.2 471.3 L135.8 475.3 L138.9 464.7 L142.4 454.2 L145 450.8 L147.6 455.5 L150.3 458.2 L152.9 451.6 L155.5 453.4 L159.5 458.2 L162.6 462.1 L165.3 456.8 L167.9 450.3 L171.3 446.3 L174.7 439.7 L177.9 422.1 L179.2 395.8 L180.5 389.2 L182.6 395.8 L183.7 408.9 L185.8 416.8 L187.9 411.6 L189.7 419.5 L192.4 427.4 L195 431.3 L197.6 424.7 L200.3 431.3 L202.9 427.4 L204.7 418.2 L206.8 427.4 L210.8 435.3 L214.7 443.2 L218.7 451.1 L222.6 458.9 L227.9 471.3 L233.2 479.2 L238.4 485.8 L243.7 491.1 L250 496.3 L253.9 498.9 L259.2 501.6 L264.5 496.3 L269.7 489.7 L273.7 484.5 L277.6 481.8 L282.9 483.2 L289.5 485.8 L294.7 488.4 L300 492.4 L305.3 495 L309.2 492.4 L314.5 496.3 L317.1 484.5 L319.7 479.2 L322.4 477.9 L325 483.2 L327.6 485.8 L331.6 483.2 L335.5 480.5 L339.5 476.6 L342.1 480.5 L345.3 476.6 L348.7 480.5 L352.6 483.2 L355.3 484.5 L359.2 479.2 L363.2 473.9 L367.1 475.3 L369.7 470 L373.2 479.2 L376.3 480.5 L378.9 483.2 L381.6 485.8 L385.5 480.5 L389.5 483.2 L393.4 480.5 L397.4 483.2 L401.3 481.8 L404.7 477.9 L407.4 471.3 L410 479.2 L413.2 485.8 L417.1 491.1 L421.1 493.7 L425 496.3 L430 489.7 L433.9 492.4 L437.9 496.3 L441.8 500.3 L444.5 505.5 L448.4 510.8 L452.4 506.8 L456.3 508.2 L461.6 510.8 L466.8 512.1 L472.1 514.7 L477.4 517.4 L482.6 516.1 L486.6 518.7 L490.5 514.7 L495.8 513.4 L501.1 517.4 L506.3 514.7 L511.6 513.4 L516.8 514.7 L520.8 518.7 L524.7 521.3 L528.7 514.7 L532.6 512.1 L537.9 510.8 L543.2 505.5 L548.4 502.9 L553.7 500.3 L558.9 501.6 L564.2 500.3 L569.5 502.9 L574.7 501.6 L580 498.9 L585.3 496.3 L589.2 492.4 L593.2 491.1 L597.1 493.7 L601.1 500.3 L603.7 508.2 L605.8 516.1 L607.6 526.6 L608.9 542.4 L612 560 L60 560Z" fill="#f8f8f8" filter="url(#b1)"/>
<path d="M82.5 476.6C83.5 480.1 86.1 491.5 88.4 497.6C90.7 503.7 94 509 96.3 513.4C98.6 517.8 101 522.2 102 524" fill="none" stroke="#777" stroke-width="6.5" opacity="0.42" stroke-linecap="round" filter="url(#b2)"/>
<path d="M75.3 481.8C76.2 486.6 79.6 506 80.5 510.8" fill="none" stroke="#999" stroke-width="3.5" opacity="0.25" stroke-linecap="round" filter="url(#b2)"/>
<path d="M121.5 476.6C122.1 480.6 124.1 491.2 125.3 500.3C126.5 509.4 128.2 525.9 128.8 531" fill="none" stroke="#888" stroke-width="4.5" opacity="0.34" stroke-linecap="round" filter="url(#b2)"/>
<path d="M109.5 508C109.7 510.2 110.6 519.1 110.8 521.3" fill="none" stroke="#999" stroke-width="3" opacity="0.25" stroke-linecap="round" filter="url(#b2)"/>
<path d="M186.3 443C186.9 447.3 188.4 459.4 189.7 468.7C191 478 193.3 493.9 194 499" fill="none" stroke="#666" stroke-width="6.5" opacity="0.45" stroke-linecap="round" filter="url(#b2)"/>
<path d="M180.2 488C180.9 491.4 183.3 501.2 184.5 508.2C185.7 515.2 186.9 526.4 187.4 530" fill="none" stroke="#777" stroke-width="5.5" opacity="0.4" stroke-linecap="round" filter="url(#b2)"/>
<path d="M204.2 457C204.9 461.1 207.3 475.3 208.2 481.8C209 488.3 209.1 493.6 209.3 496" fill="none" stroke="#999" stroke-width="4.5" opacity="0.32" stroke-linecap="round" filter="url(#b2)"/>
<path d="M222 496C222.6 498.9 224.3 508.9 225.3 513.4C226.3 517.9 227.6 521.4 228 523" fill="none" stroke="#aaa" stroke-width="4.5" opacity="0.36" stroke-linecap="round" filter="url(#b2)"/>
<path d="M234 524C236 524.3 244 525.7 246 526" fill="none" stroke="#aaa" stroke-width="6" opacity="0.32" stroke-linecap="round" filter="url(#b2)"/>
<path d="M150 500C150.2 501.3 150.8 506.7 151 508" fill="none" stroke="#aaa" stroke-width="4" opacity="0.28" stroke-linecap="round" filter="url(#b2)"/>
<rect x="604.5" y="333.2" width="6" height="214.6" fill="#333" opacity="0.55" filter="url(#b1)"/>
<rect x="340" y="544" width="272" height="6" fill="url(#gstrip)" opacity="0.9" filter="url(#b1)"/>
<rect x="400" y="541.5" width="212" height="4" fill="#555" opacity="0.45" filter="url(#b15)"/>
<rect x="92" y="545" width="58" height="3" fill="#999" opacity="0.6" filter="url(#b1)"/>
<rect x="196" y="545.6" width="30" height="3" fill="#aaa" opacity="0.5" filter="url(#b1)"/>
<rect x="262" y="545.6" width="70" height="3" fill="#aaa" opacity="0.5" filter="url(#b1)"/>
<rect x="527" y="358.2" width="19" height="2.2" fill="#ddd" opacity="0.8" filter="url(#b1)"/>
<rect x="460" y="485.2" width="15" height="2.4" fill="#fff" opacity="0.9" filter="url(#b1)"/>
</g>
<line x1="70.35" y1="440.4" x2="609.4" y2="440.4" stroke="#d4d4d4" stroke-width="1.1" stroke-dasharray="1.7 4.275"/>
<text x="221.8" y="401.7" textLength="42.9" lengthAdjust="spacingAndGlyphs" fill="#e0e0e0" fill-opacity="0.82" class="ns">Polar</text>
<text x="271.7" y="401.7" textLength="31.6" lengthAdjust="spacingAndGlyphs" fill="#e0e0e0" fill-opacity="0.82" class="ns">Cap</text>
<text x="310.4" y="401.7" textLength="66" lengthAdjust="spacingAndGlyphs" fill="#e0e0e0" fill-opacity="0.82" class="ns">Patches</text>
<text x="261.5" y="527.8" textLength="74.6" lengthAdjust="spacingAndGlyphs" fill="#222">Nightside</text>
<text x="343.2" y="527.8" textLength="58.6" lengthAdjust="spacingAndGlyphs" fill="#222">Auroral</text>
<text x="409.5" y="527.8" textLength="33.7" lengthAdjust="spacingAndGlyphs" fill="#222">Oval</text>
<text x="88.3" y="360.6" font-family='"Liberation Serif", serif' font-weight="bold" font-size="17.5" fill="#fff" class="ns">b</text>
<path d="M70.7 547.8v-4.5M70.7 333.2v4.5M93.1 547.8v-2.4M93.1 333.2v2.4M115.6 547.8v-2.4M115.6 333.2v2.4M138 547.8v-4.5M138 333.2v4.5M160.5 547.8v-2.4M160.5 333.2v2.4M182.9 547.8v-2.4M182.9 333.2v2.4M205.4 547.8v-4.5M205.4 333.2v4.5M227.8 547.8v-2.4M227.8 333.2v2.4M250.3 547.8v-2.4M250.3 333.2v2.4M272.7 547.8v-4.5M272.7 333.2v4.5M295.2 547.8v-2.4M295.2 333.2v2.4M317.6 547.8v-2.4M317.6 333.2v2.4M340 547.8v-4.5M340 333.2v4.5M362.5 547.8v-2.4M362.5 333.2v2.4M384.9 547.8v-2.4M384.9 333.2v2.4M407.4 547.8v-4.5M407.4 333.2v4.5M429.8 547.8v-2.4M429.8 333.2v2.4M452.3 547.8v-2.4M452.3 333.2v2.4M474.7 547.8v-4.5M474.7 333.2v4.5M497.2 547.8v-2.4M497.2 333.2v2.4M519.6 547.8v-2.4M519.6 333.2v2.4M542.1 547.8v-4.5M542.1 333.2v4.5M564.5 547.8v-2.4M564.5 333.2v2.4M587 547.8v-2.4M587 333.2v2.4M609.4 547.8v-4.5M609.4 333.2v4.5" stroke="#111" stroke-width="1.1" fill="none"/>
<path d="M70.7 333.2h4.5M609.4 333.2h-4.5M70.7 346.6h2.6M609.4 346.6h-2.6M70.7 360h2.6M609.4 360h-2.6M70.7 373.4h2.6M609.4 373.4h-2.6M70.7 386.8h2.6M609.4 386.8h-2.6M70.7 400.3h2.6M609.4 400.3h-2.6M70.7 413.7h2.6M609.4 413.7h-2.6M70.7 427.1h2.6M609.4 427.1h-2.6M70.7 440.5h4.5M609.4 440.5h-4.5M70.7 453.9h2.6M609.4 453.9h-2.6M70.7 467.3h2.6M609.4 467.3h-2.6M70.7 480.7h2.6M609.4 480.7h-2.6M70.7 494.1h2.6M609.4 494.1h-2.6M70.7 507.6h2.6M609.4 507.6h-2.6M70.7 521h2.6M609.4 521h-2.6M70.7 534.4h2.6M609.4 534.4h-2.6M70.7 547.8h4.5M609.4 547.8h-4.5" stroke="#111" stroke-width="1.1" fill="none"/>
<rect x="70.7" y="333.2" width="538.7" height="214.6" fill="none" stroke="#1a1a1a" stroke-width="1.3"/>
<text x="45.6" y="344">N</text>
<text x="46.2" y="447.6">Z</text>
<text x="46.4" y="549.2">S</text>
<g transform="translate(31 502) rotate(-90)"><text x="0" y="0" textLength="121.6" lengthAdjust="spacing">South to North</text></g>
<g transform="translate(7.3 462.4) rotate(-90)"><text x="0" y="0" font-size="10" fill="#000" style="stroke:#000;stroke-width:.25px" textLength="42.2" lengthAdjust="spacing">keogram</text></g>
<rect x="617.2" y="526.3" width="8.6" height="21.8" fill="rgb(0,0,0)"/>
<rect x="617.2" y="504.9" width="8.6" height="21.8" fill="rgb(28,28,28)"/>
<rect x="617.2" y="483.4" width="8.6" height="21.8" fill="rgb(57,57,57)"/>
<rect x="617.2" y="462" width="8.6" height="21.8" fill="rgb(85,85,85)"/>
<rect x="617.2" y="440.5" width="8.6" height="21.8" fill="rgb(113,113,113)"/>
<rect x="617.2" y="419" width="8.6" height="21.8" fill="rgb(142,142,142)"/>
<rect x="617.2" y="397.6" width="8.6" height="21.8" fill="rgb(170,170,170)"/>
<rect x="617.2" y="376.1" width="8.6" height="21.8" fill="rgb(198,198,198)"/>
<rect x="617.2" y="354.7" width="8.6" height="21.8" fill="rgb(227,227,227)"/>
<rect x="617.2" y="333.2" width="8.6" height="21.8" fill="rgb(255,255,255)"/>
<rect x="617.2" y="333.2" width="8.6" height="214.6" fill="none" stroke="#222" stroke-width="1.1"/>
<text x="628.4" y="548.3" font-size="14" textLength="8.4" lengthAdjust="spacingAndGlyphs">0</text>
<text x="628.4" y="505.4" font-size="14" textLength="25.4" lengthAdjust="spacingAndGlyphs">200</text>
<text x="628.4" y="462.5" font-size="14" textLength="25.4" lengthAdjust="spacingAndGlyphs">400</text>
<text x="628.4" y="419.5" font-size="14" textLength="25.4" lengthAdjust="spacingAndGlyphs">600</text>
<text x="628.4" y="376.6" font-size="14" textLength="25.4" lengthAdjust="spacingAndGlyphs">800</text>
<path d="M617.2 547.8H625.8M617.2 504.9H625.8M617.2 462H625.8M617.2 419H625.8M617.2 376.1H625.8" stroke="#222" stroke-width="1.1" fill="none"/>
<g transform="translate(671.3 350.8) rotate(90)"><text x="0" y="0" textLength="178.6" lengthAdjust="spacing">Absolute Intensity (R)</text></g>
</svg>
</body></html>
